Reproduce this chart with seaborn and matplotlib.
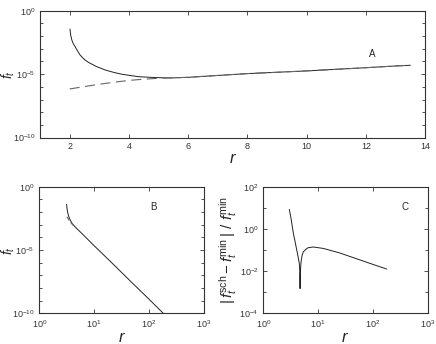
import numpy as np
import pandas as pd
import matplotlib
matplotlib.use("Agg")
import matplotlib.pyplot as plt
import matplotlib.ticker as mticker
import seaborn as sns

# panel A: f_t against r (linear r)
a_r_exact = [2.01, 2.02, 2.04, 2.07, 2.12, 2.18, 2.25, 2.35, 2.5, 2.63, 2.9, 3.2, 3.5,
             3.76, 4.0, 4.32, 4.6, 4.89, 5.2, 5.45, 6, 7, 8, 9, 10, 11, 12, 13, 13.5]
a_f_exact = [3.6e-2, 2.0e-2, 1.0e-2, 5.0e-3, 2.5e-3, 1.5e-3, 7.6e-4, 3.2e-4, 1.4e-4,
             8.5e-5, 4.0e-5, 2.1e-5, 1.35e-5, 9.8e-6, 8.1e-6, 6.3e-6, 5.8e-6, 5.4e-6,
             5.1e-6, 5.0e-6, 5.6e-6, 7.9e-6, 1.1e-5, 1.4e-5, 1.8e-5, 2.4e-5, 3.2e-5,
             4.4e-5, 5.0e-5]
a_r_asym = [2.0, 2.5, 3, 3.5, 4, 4.5, 5, 5.5, 6, 7, 8, 9, 10, 11, 12, 13, 13.5]
a_f_asym = [6.8e-7, 1.05e-6, 1.6e-6, 2.3e-6, 3.2e-6, 4.0e-6, 4.7e-6, 5.2e-6, 5.6e-6,
            7.9e-6, 1.1e-5, 1.4e-5, 1.8e-5, 2.4e-5, 3.2e-5, 4.4e-5, 5.0e-5]

# panel B: f_t against r (log r)
b_r_exact = [3.15, 3.2, 3.3, 3.45, 3.6, 3.8, 4.0, 4.4, 4.8, 6, 10, 20, 50, 100, 185]
b_f_exact = [4.1e-2, 2.0e-2, 8.9e-3, 4.5e-3, 2.8e-3, 1.8e-3, 1.2e-3, 7.6e-4, 5.1e-4,
             2.0e-4, 2.2e-5, 1.2e-6, 2.4e-8, 1.3e-9, 9.3e-11]
b_r_asym = [3.2, 3.5, 4.0, 4.4, 4.8]
b_f_asym = [4.3e-3, 2.2e-3, 1.07e-3, 7.2e-4, 5.1e-4]

# panel C: relative difference
c_r = [2.98, 3.2, 3.53, 3.8, 4.07, 4.3, 4.54, 4.62, 4.68, 4.72, 4.8, 4.88, 5.1, 5.37,
       6.0, 6.6, 8.1, 10, 12.4, 24.4, 50, 100, 179]
c_rel = [8.5, 3.2, 0.62, 0.25, 0.1, 0.05, 0.023, 0.01, 1.5e-3, 6.3e-3, 0.016, 0.028,
         0.056, 0.083, 0.11, 0.13, 0.14, 0.13, 0.12, 0.074, 0.039, 0.021, 0.0126]

sns.set_style("ticks")
plt.rcParams["font.family"] = ["Liberation Sans", "DejaVu Sans"]
plt.rcParams["mathtext.fontset"] = "custom"
plt.rcParams["mathtext.rm"] = "Liberation Sans"
plt.rcParams["mathtext.it"] = "Liberation Sans:italic"
plt.rcParams["axes.edgecolor"] = "#333333"
plt.rcParams["axes.linewidth"] = 0.8

fig = plt.figure(figsize=(4.36, 3.44), dpi=100)
ax_a = fig.add_axes([0.092, 0.600, 0.883, 0.369])
ax_b = fig.add_axes([0.090, 0.089, 0.378, 0.368])
ax_c = fig.add_axes([0.604, 0.089, 0.377, 0.368])

solid = dict(color="#222222", linewidth=0.7, sort=False)


def style_axis(ax):
    ax.tick_params(direction="in", which="both", top=True, right=True,
                   labelsize=6.5, length=3, width=0.6, colors="#333333")
    ax.tick_params(which="minor", length=2)
    ax.set_xlabel("$r$", fontsize=12, labelpad=0)


# A
sns.lineplot(x=a_r_exact, y=a_f_exact, ax=ax_a, **solid)
sns.lineplot(x=a_r_asym, y=a_f_asym, ax=ax_a, color="#666666", linewidth=0.8,
             sort=False, linestyle=(0, (9, 5)))
ax_a.set_yscale("log")
ax_a.set_xlim(1, 14)
ax_a.set_ylim(1e-10, 1)
ax_a.xaxis.set_major_locator(mticker.FixedLocator([2, 4, 6, 8, 10, 12, 14]))
ax_a.yaxis.set_major_locator(mticker.FixedLocator([1e-10, 1e-5, 1]))
ax_a.yaxis.set_minor_locator(mticker.FixedLocator([10.0 ** k for k in range(-10, 1)]))
ax_a.yaxis.set_minor_formatter(mticker.NullFormatter())
style_axis(ax_a)
ax_a.set_ylabel("$f_t$", fontsize=10, labelpad=-3.5)
ax_a.text(12.1, 2.2e-4, "A", fontsize=7)

# B
sns.lineplot(x=b_r_exact, y=b_f_exact, ax=ax_b, **solid)
sns.lineplot(x=b_r_asym, y=b_f_asym, ax=ax_b, color="#666666", linewidth=0.8,
             sort=False, linestyle=(0, (4, 2)))
ax_b.set_xscale("log")
ax_b.set_yscale("log")
ax_b.set_xlim(1, 1e3)
ax_b.set_ylim(1e-10, 1)
ax_b.xaxis.set_major_locator(mticker.FixedLocator([1, 10, 100, 1000]))
ax_b.xaxis.set_minor_locator(mticker.NullLocator())
ax_b.yaxis.set_major_locator(mticker.FixedLocator([1e-10, 1e-5, 1]))
ax_b.yaxis.set_minor_locator(mticker.FixedLocator([10.0 ** k for k in range(-10, 1)]))
ax_b.yaxis.set_minor_formatter(mticker.NullFormatter())
style_axis(ax_b)
ax_b.set_ylabel("$f_t$", fontsize=10, labelpad=-3.5)
ax_b.text(107, 1.6e-2, "B", fontsize=7)

# C
sns.lineplot(x=c_r, y=c_rel, ax=ax_c, **solid)
ax_c.set_xscale("log")
ax_c.set_yscale("log")
ax_c.set_xlim(1, 1e3)
ax_c.set_ylim(1e-4, 1e2)
ax_c.xaxis.set_major_locator(mticker.FixedLocator([1, 10, 100, 1000]))
ax_c.xaxis.set_minor_locator(mticker.NullLocator())
ax_c.yaxis.set_major_locator(mticker.FixedLocator([1e-4, 1e-2, 1, 1e2]))
ax_c.yaxis.set_minor_locator(mticker.FixedLocator([10.0 ** k for k in range(-4, 3)]))
ax_c.yaxis.set_minor_formatter(mticker.NullFormatter())
style_axis(ax_c)
ax_c.set_ylabel(r"$|\,f_t^{\rm sch} - f_t^{\rm min}\,|\ /\ f_t^{\rm min}$",
                fontsize=11, labelpad=0)
ax_c.text(335, 8.0, "C", fontsize=7)

plt.savefig("out.png", dpi=100)
plt.close()
